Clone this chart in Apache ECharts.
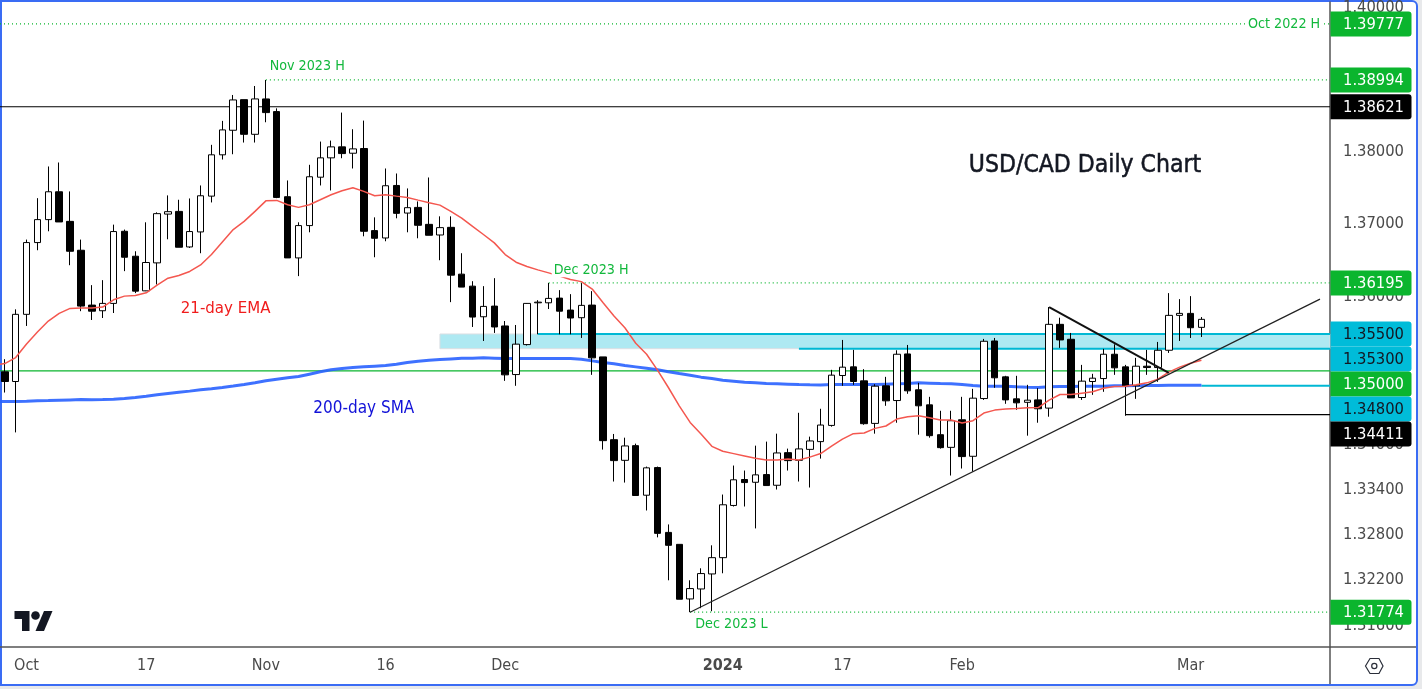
<!DOCTYPE html>
<html>
<head>
<meta charset="utf-8">
<title>USD/CAD Daily Chart</title>
<script src="https://cdn.jsdelivr.net/npm/echarts@6/dist/echarts.min.js"></script>
<style>
html, body { margin: 0; padding: 0; background: #e8e9eb; overflow: hidden; }
#frame { position: absolute; left: 0; top: 0; width: 1418px; height: 686px; box-sizing: border-box; background: #fff; border: 2px solid #3a6cf4; border-radius: 0 6px 6px 0; }
#main { position: absolute; left: 0; top: 0; width: 1422px; height: 689px; }
</style>
</head>
<body>
<div id="frame"></div>
<div id="main"></div>
<script>
// daily candles, 28 Sep 2023 -> 4 Mar 2024
var opens = [1.34987,1.34856,1.35767,1.36747,1.37062,1.37445,1.37038,1.36642,1.35893,1.35816,1.35916,1.36902,1.3656,1.36087,1.36469,1.37138,1.37175,1.36687,1.36893,1.37385,1.37955,1.38295,1.3872,1.38239,1.3873,1.38554,1.37377,1.36537,1.3698,1.37646,1.37913,1.38065,1.37977,1.38042,1.36911,1.3681,1.37532,1.37152,1.3723,1.36997,1.36851,1.36956,1.36315,1.36151,1.35734,1.35879,1.35609,1.3495,1.35356,1.35924,1.35924,1.35988,1.35825,1.35721,1.35893,1.35189,1.34072,1.33795,1.33992,1.33328,1.33698,1.32832,1.32673,1.31949,1.32081,1.3228,1.32496,1.33191,1.33538,1.33501,1.33604,1.33461,1.33898,1.33795,1.33942,1.34046,1.34264,1.34937,1.35054,1.34865,1.34291,1.34798,1.34599,1.35229,1.34744,1.34541,1.34139,1.33969,1.3434,1.33849,1.34626,1.35405,1.34919,1.34622,1.34575,1.34608,1.34497,1.35631,1.35428,1.3464,1.34856,1.34896,1.35225,1.35054,1.34798,1.35063,1.35045,1.35279,1.35753,1.3578,1.3559];
var closes = [1.34856,1.35767,1.36747,1.37062,1.37445,1.3703,1.36628,1.35879,1.3581,1.35916,1.36898,1.36546,1.36083,1.36474,1.37144,1.37171,1.36683,1.36898,1.3739,1.37955,1.383,1.38716,1.38239,1.3873,1.3854,1.37367,1.36537,1.3698,1.37652,1.37913,1.38065,1.37972,1.38037,1.36902,1.36806,1.37528,1.37148,1.37226,1.36984,1.36847,1.36952,1.36301,1.36138,1.3573,1.35875,1.35595,1.34946,1.35362,1.35916,1.35933,1.35984,1.3581,1.35717,1.35889,1.35176,1.34059,1.33791,1.33988,1.33324,1.33694,1.32819,1.3266,1.31945,1.32086,1.32285,1.32496,1.332,1.33534,1.33497,1.336,1.33457,1.33894,1.33791,1.33948,1.34055,1.34269,1.34942,1.3505,1.34856,1.34287,1.34793,1.34595,1.35225,1.3473,1.34528,1.34126,1.33965,1.34327,1.33845,1.34631,1.35401,1.34906,1.34608,1.34568,1.34604,1.34488,1.35631,1.35419,1.34635,1.34861,1.34901,1.35225,1.35041,1.34798,1.35063,1.35045,1.35279,1.35753,1.3578,1.35585,1.35699];
var lows = [1.34707,1.3417,1.35609,1.36642,1.36902,1.3703,1.36437,1.3581,1.3569,1.35717,1.35785,1.36356,1.36056,1.36083,1.36174,1.36792,1.36683,1.36673,1.36601,1.37298,1.3789,1.37963,1.38125,1.38125,1.38406,1.37357,1.36537,1.36288,1.36888,1.37532,1.37463,1.37908,1.37766,1.36833,1.36546,1.36765,1.3708,1.36888,1.36806,1.36847,1.36505,1.35933,1.36138,1.35595,1.35405,1.35514,1.34865,1.34798,1.35343,1.35496,1.35839,1.35496,1.35496,1.35446,1.34946,1.33939,1.33511,1.33497,1.33324,1.33124,1.32766,1.32196,1.31945,1.31774,1.31827,1.31787,1.32289,1.33177,1.33177,1.32885,1.33457,1.33404,1.33658,1.33511,1.33431,1.33818,1.34247,1.34798,1.34811,1.34273,1.34153,1.34528,1.343,1.3469,1.34139,1.34099,1.33952,1.33591,1.33685,1.33644,1.34608,1.34771,1.34555,1.34474,1.34126,1.343,1.34381,1.35311,1.34635,1.34608,1.34676,1.34717,1.34946,1.34394,1.34622,1.34946,1.34852,1.35243,1.35405,1.35446,1.35459];
var highs = [1.35158,1.35835,1.36788,1.37357,1.37794,1.37849,1.3745,1.36788,1.36165,1.36233,1.36993,1.36925,1.36628,1.37025,1.37162,1.37395,1.37335,1.37353,1.37532,1.38093,1.38425,1.38785,1.3872,1.3891,1.38994,1.38599,1.37601,1.37025,1.37817,1.38138,1.38152,1.3854,1.38309,1.38429,1.37093,1.37766,1.37697,1.37491,1.37312,1.37642,1.37107,1.37107,1.36601,1.36219,1.36151,1.3626,1.35676,1.35622,1.3592,1.3596,1.36195,1.36097,1.36042,1.36192,1.36083,1.35189,1.34149,1.34099,1.34019,1.33711,1.33711,1.32938,1.32673,1.32196,1.32355,1.3266,1.33337,1.33725,1.33658,1.33992,1.34046,1.34153,1.33952,1.34434,1.34113,1.34488,1.35014,1.35419,1.35284,1.35023,1.3482,1.34919,1.35279,1.35351,1.34838,1.34649,1.34461,1.34461,1.34649,1.34757,1.35433,1.35446,1.34933,1.34933,1.34811,1.34766,1.35866,1.35721,1.35514,1.35081,1.3496,1.35298,1.3536,1.35081,1.35176,1.35284,1.35392,1.36056,1.35974,1.36015,1.3573];

var ema21 = [1.35099,1.3518,1.35365,1.35527,1.35676,1.3578,1.35848,1.35852,1.35852,1.35866,1.35965,1.36015,1.36024,1.3606,1.36165,1.3626,1.36297,1.36352,1.36441,1.36583,1.36755,1.36925,1.37038,1.37175,1.3732,1.37326,1.37267,1.3723,1.37267,1.37335,1.37404,1.37459,1.37501,1.3745,1.3739,1.37404,1.37385,1.37367,1.3733,1.37294,1.37261,1.37175,1.37083,1.3697,1.36858,1.36743,1.36583,1.36478,1.3642,1.36373,1.36332,1.36288,1.36243,1.36213,1.36111,1.35924,1.35744,1.35585,1.35374,1.35225,1.35009,1.34775,1.34528,1.34304,1.34149,1.33983,1.33916,1.33885,1.33854,1.33822,1.338,1.338,1.33814,1.338,1.33838,1.33886,1.33985,1.34079,1.34153,1.34162,1.34224,1.34256,1.3435,1.34381,1.34394,1.34367,1.34336,1.34336,1.34296,1.34327,1.3443,1.3447,1.34484,1.34492,1.34501,1.34505,1.34604,1.3468,1.3468,1.34699,1.34717,1.34766,1.34788,1.34793,1.34811,1.34838,1.34888,1.34982,1.3505,1.35104,1.35144];
var sma200 = [1.34586,1.34586,1.34588,1.34595,1.34599,1.34604,1.34608,1.34612,1.3461,1.34612,1.34616,1.34626,1.34639,1.34656,1.34676,1.34693,1.3471,1.34726,1.34744,1.34757,1.34775,1.34795,1.34816,1.34838,1.34865,1.34888,1.34906,1.34923,1.34955,1.34987,1.35014,1.35031,1.35045,1.35054,1.35063,1.35072,1.3509,1.35112,1.35131,1.35144,1.35153,1.35162,1.35171,1.35171,1.35176,1.35171,1.35166,1.35166,1.35166,1.35166,1.35166,1.35166,1.35166,1.35158,1.35135,1.35112,1.35095,1.35072,1.35054,1.35036,1.35014,1.34987,1.34964,1.34942,1.34915,1.34896,1.34874,1.34861,1.34847,1.34838,1.34829,1.34825,1.3482,1.34815,1.34811,1.34808,1.34815,1.34815,1.34815,1.34815,1.34815,1.3482,1.34825,1.34829,1.34838,1.34834,1.34829,1.34825,1.34815,1.34802,1.34793,1.34793,1.34793,1.34784,1.34777,1.34775,1.34784,1.34788,1.34788,1.34793,1.34793,1.34793,1.34798,1.34798,1.34802,1.34802,1.34802,1.34807,1.34807,1.34807,1.34807];
// the averages run on from the day just off the left edge
var emaBefore = 1.3508, smaBefore = 1.34586;

// axis ticks
var priceTicks = [1.4, 1.38, 1.37, 1.36, 1.34, 1.334, 1.328, 1.322, 1.316];
var dayTicks = [2, 13, 24, 35, 46, 66, 77, 88, 109];
var dayLabels = ['Oct', '17', 'Nov', '16', 'Dec', '2024', '17', 'Feb', 'Mar'];

// horizontal levels: where they start (candle index), price, kind
var levelPrices = [1.39777, 1.38994, 1.38621, 1.36195, 1.355, 1.353, 1.35, 1.348, 1.3441, 1.31774];
var levelTexts = ['1.39777', '1.38994', '1.38621', '1.36195', '1.35500', '1.35300', '1.35000', '1.34800', '1.34411', '1.31774'];
var levelStarts = [-0.44, 24, -0.44, 50, 49, 73, -0.44, 110, 103, 63];
var levelKinds = ['hi', 'hi', 'res', 'hi', 'zone', 'zone', 'mid', 'zone', 'res', 'hi'];

// hand drawn trend lines: [candle index, price]
var supportLine = [[63, 1.31774], [120.9, 1.35974]];
var fallingLine = [[96, 1.35866], [107, 1.34973]];

// text notes on the chart: [candle index, price, text]
var greenNotes = [[27.8, 1.39178, 'Nov 2023 H'], [53.9, 1.36369, 'Dec 2023 H'], [117.6, 1.39777, 'Oct 2022 H'], [66.8, 1.31612, 'Dec 2023 L']];
var emaNote = [[20.3, 1.35839, '21-day EMA']];
var smaNote = [[33, 1.34488, '200-day SMA']];
var titleNote = [[99.3, 1.37807, 'USD/CAD Daily Chart']];

var xMin = -0.44, xMax = 121.82;
var uiFont = '"DejaVu Sans Condensed", "DejaVu Sans", sans-serif';

var kindStyle = {
    hi: { line: '#0bb52e', type: [1, 3], box: '#0bb52e', text: '#fff' },
    mid: { line: '#0bb52e', type: 'solid', box: '#0bb52e', text: '#fff' },
    zone: { line: '#00b8d4', type: 'solid', box: '#00bcd9', text: '#131722' },
    res: { line: '#000', type: 'solid', box: '#000', text: '#fff' }
};

function noteSeries(data, color, size, extra) {
    return {
        type: 'custom',
        silent: true,
        z: 8,
        clip: false,
        data: data,
        encode: { x: 0, y: 1 },
        renderItem: function (params, api) {
            var p = api.coord([api.value(0), api.value(1)]);
            return {
                type: 'text',
                style: Object.assign({
                    x: p[0], y: p[1], text: data[params.dataIndex][2], fill: color,
                    font: size + 'px ' + uiFont, align: 'center', verticalAlign: 'middle'
                }, extra)
            };
        }
    };
}

var series = [];

// light blue zone between the two cyan lines
series.push({
    type: 'custom',
    silent: true,
    z: 1,
    data: [[40, 1.355, 1.353]],
    encode: { x: 0, y: [1, 2] },
    renderItem: function (params, api) {
        var a = api.coord([api.value(0), api.value(1)]);
        var b = api.coord([xMax, api.value(2)]);
        return { type: 'rect', shape: { x: a[0], y: a[1], width: b[0] - a[0], height: b[1] - a[1] }, style: { fill: '#aee9f2', stroke: '#dcdfe3', lineWidth: 1 } };
    }
});

levelPrices.forEach(function (price, i) {
    var st = kindStyle[levelKinds[i]];
    series.push({
        type: 'line',
        silent: true,
        z: levelKinds[i] === 'zone' ? 2 : 3,
        showSymbol: false,
        lineStyle: { color: st.line, width: levelKinds[i] === 'zone' ? 2 : 1.2, type: st.type },
        data: [[levelStarts[i], price], [xMax, price]]
    });
});

series.push({
    type: 'line', name: '200-day SMA', silent: true, z: 4, showSymbol: false,
    lineStyle: { color: '#2962ff', width: 3, opacity: 0.9 },
    data: [[-1, smaBefore]].concat(sma200.map(function (v, i) { return [i, v]; }))
});

series.push({
    type: 'candlestick',
    silent: true,
    z: 5,
    barWidth: 7,
    itemStyle: { color: '#fff', color0: '#000', borderColor: '#000', borderColor0: '#000', borderWidth: 1 },
    data: opens.map(function (o, i) { return [i, o, closes[i], lows[i], highs[i]]; })
});

series.push({
    type: 'line', name: '21-day EMA', silent: true, z: 6, showSymbol: false,
    lineStyle: { color: '#f4574f', width: 1.5 },
    data: [[-1, emaBefore]].concat(ema21.map(function (v, i) { return [i, v]; }))
});

series.push({ type: 'line', silent: true, z: 7, showSymbol: false, lineStyle: { color: '#222', width: 1.2 }, data: supportLine });
series.push({ type: 'line', silent: true, z: 7, showSymbol: false, lineStyle: { color: '#111', width: 2 }, data: fallingLine });

series.push(noteSeries(greenNotes, '#12b83c', 14.2, { backgroundColor: '#fff', padding: [0, 2] }));
series.push(noteSeries(emaNote, '#f01c1c', 16.7, {}));
series.push(noteSeries(smaNote, '#1212d8', 17, {}));
series.push(noteSeries(titleNote, '#131722', 24.5, { stroke: '#131722', lineWidth: 0.5 }));

// price boxes on the axis, pushed down when they would overlap like TradingView does
var boxBottom = 0;
series.push({
    type: 'custom',
    silent: true,
    z: 10,
    clip: false,
    data: levelPrices.map(function (p) { return [xMax, p]; }),
    encode: { x: 0, y: 1 },
    renderItem: function (params, api) {
        var p = api.coord([xMax, api.value(1)]);
        var h = 25;
        if (params.dataIndex === 0) boxBottom = 0;
        var top = Math.max(p[1] - h / 2, boxBottom);
        boxBottom = top + h;
        var st = kindStyle[levelKinds[params.dataIndex]];
        return {
            type: 'group',
            children: [
                { type: 'rect', shape: { x: p[0] + 0.5, y: top, width: 81, height: h, r: [0, 3, 3, 0] }, style: { fill: st.box } },
                { type: 'text', style: { x: p[0] + 43.5, y: top + h / 2 + 0.5, text: levelTexts[params.dataIndex], fill: st.text, font: '16.4px ' + uiFont, align: 'center', verticalAlign: 'middle' } }
            ]
        };
    }
});

var chart = echarts.init(document.getElementById('main'));
chart.setOption({
    animation: false,
    backgroundColor: 'transparent',
    grid: { left: 0, top: 0, width: 1330, height: 647 },
    xAxis: {
        type: 'value',
        min: xMin,
        max: xMax,
        splitLine: { show: false },
        axisLine: { onZero: false, lineStyle: { color: '#555', width: 1.5 } },
        axisTick: { show: false },
        axisLabel: {
            customValues: dayTicks,
            margin: 11,
            color: '#4a4a4a',
            fontFamily: uiFont,
            fontSize: 16,
            formatter: function (v) {
                var s = dayLabels[dayTicks.indexOf(v)];
                return s === '2024' ? '{b|' + s + '}' : s;
            },
            rich: { b: { fontWeight: 'bold', fontSize: 16, color: '#4a4a4a', fontFamily: uiFont } }
        }
    },
    yAxis: {
        type: 'log',
        position: 'right',
        min: 1.31315,
        max: 1.40085,
        splitLine: { show: false },
        axisLine: { onZero: false, show: true, lineStyle: { color: '#555', width: 1.5 } },
        axisTick: { show: false },
        axisLabel: {
            customValues: priceTicks,
            margin: 13,
            color: '#4a4a4a',
            fontFamily: uiFont,
            fontSize: 16.4,
            formatter: function (v) { return Number(v).toFixed(5); }
        }
    },
    graphic: [
        { type: 'line', shape: { x1: 1330, y1: 647, x2: 1416, y2: 647 }, style: { stroke: '#555', lineWidth: 1.5 }, silent: true },
        { type: 'line', shape: { x1: 1330, y1: 647, x2: 1330, y2: 684 }, style: { stroke: '#555', lineWidth: 1.5 }, silent: true },
        { type: 'polygon', silent: true, shape: { points: [[14.5, 611], [29.5, 611], [29.5, 631], [22, 631], [22, 619], [14.5, 619]] }, style: { fill: '#131722' } },
        { type: 'polygon', silent: true, shape: { points: [[44, 611], [52.5, 611], [44, 631], [35.5, 631]] }, style: { fill: '#131722' } },
        { type: 'circle', silent: true, shape: { cx: 35.5, cy: 615.5, r: 4.3 }, style: { fill: '#131722' } },
        {
            type: 'polygon', silent: true,
            shape: { points: [[1365.5, 666], [1370, 658.5], [1379, 658.5], [1383, 666], [1379, 673.5], [1370, 673.5]] },
            style: { fill: 'none', stroke: '#2a2e39', lineWidth: 1.2 }
        },
        { type: 'circle', silent: true, shape: { cx: 1374.3, cy: 666, r: 2.6 }, style: { fill: 'none', stroke: '#2a2e39', lineWidth: 1.2 } }
    ],
    series: series
});
</script>
</body>
</html>
